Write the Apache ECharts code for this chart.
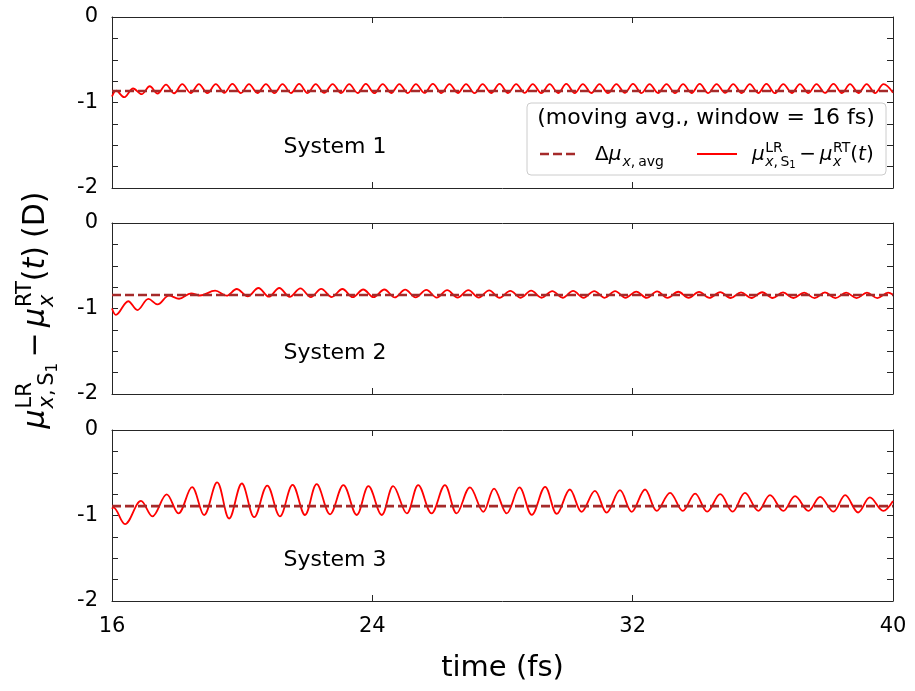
<!DOCTYPE html>
<html>
<head>
<meta charset="utf-8">
<script src="https://cdn.jsdelivr.net/npm/echarts@6/dist/echarts.min.js"></script>
<style>
  html, body { margin: 0; padding: 0; background: #ffffff; }
  #chart { width: 915px; height: 691px; }
</style>
</head>
<body>
<div id="chart"></div>
<script>
// ---- data -------------------------------------------------------------
const timeTicks = [16, 24, 32, 40];
const dipoleTicks = [0, -1, -2];
const panelNames = ['System 1', 'System 2', 'System 3'];
const avgValue = [-0.865, -0.842, -0.89];

// System 1: turning points of the dipole difference (fs, D)
const sys1Time = [16.00, 16.13, 16.37, 16.65, 16.91, 17.16, 17.40, 17.66, 17.91,
  18.16, 18.42, 18.67, 18.93, 19.19, 19.45, 19.70, 19.96, 20.21, 20.47,
  20.73, 20.99, 21.24, 21.50, 21.75, 22.01, 22.26, 22.52, 22.78, 23.04,
  23.29, 23.55, 23.80, 24.06, 24.32, 24.58, 24.83, 25.09, 25.34, 25.60,
  25.86, 26.12, 26.37, 26.63, 26.88, 27.14, 27.39, 27.65, 27.91, 28.17,
  28.42, 28.68, 28.93, 29.19, 29.45, 29.71, 29.96, 30.22, 30.47, 30.73,
  30.98, 31.24, 31.50, 31.76, 32.01, 32.27, 32.52, 32.78, 33.04, 33.30,
  33.55, 33.81, 34.06, 34.32, 34.58, 34.84, 35.09, 35.35, 35.60, 35.86,
  36.11, 36.37, 36.63, 36.89, 37.14, 37.40, 37.65, 37.91, 38.17, 38.43,
  38.68, 38.94, 39.19, 39.45, 39.71, 40.00];
const sys1Value = [-0.930, -0.862, -0.938, -0.836, -0.903, -0.810, -0.895, -0.790, -0.892,
  -0.786, -0.889, -0.784, -0.890, -0.786, -0.888, -0.783, -0.890, -0.785, -0.889,
  -0.784, -0.891, -0.786, -0.889, -0.783, -0.890, -0.785, -0.888, -0.784, -0.890,
  -0.786, -0.889, -0.783, -0.891, -0.785, -0.889, -0.784, -0.890, -0.786, -0.888,
  -0.783, -0.890, -0.785, -0.889, -0.784, -0.891, -0.786, -0.889, -0.783, -0.890,
  -0.785, -0.888, -0.784, -0.890, -0.786, -0.889, -0.783, -0.891, -0.785, -0.889,
  -0.784, -0.890, -0.786, -0.888, -0.783, -0.890, -0.785, -0.889, -0.784, -0.891,
  -0.786, -0.889, -0.783, -0.890, -0.785, -0.888, -0.784, -0.890, -0.786, -0.889,
  -0.783, -0.891, -0.785, -0.889, -0.784, -0.890, -0.786, -0.888, -0.783, -0.890,
  -0.785, -0.889, -0.784, -0.890, -0.786, -0.885];

// System 2
const sys2Time = [16.00, 16.12, 16.50, 16.78, 17.12, 17.40, 17.75, 18.06, 18.43, 18.70,
  19.17, 19.52, 19.83, 20.17, 20.50, 20.82, 21.14, 21.46, 21.79, 22.11,
  22.43, 22.75, 23.08, 23.40, 23.72, 24.04, 24.37, 24.69, 25.01, 25.33,
  25.66, 25.98, 26.30, 26.62, 26.95, 27.27, 27.59, 27.91, 28.24, 28.56,
  28.88, 29.20, 29.53, 29.85, 30.17, 30.49, 30.82, 31.14, 31.46, 31.78,
  32.11, 32.43, 32.75, 33.07, 33.40, 33.72, 34.04, 34.36, 34.69, 35.01,
  35.33, 35.65, 35.98, 36.30, 36.62, 36.94, 37.27, 37.59, 37.91, 38.23,
  38.56, 38.88, 39.20, 39.52, 39.85, 40.00];
const sys2Value = [-1.000, -1.075, -0.915, -1.018, -0.888, -0.952, -0.850, -0.886, -0.822, -0.848,
  -0.792, -0.850, -0.772, -0.857, -0.760, -0.862, -0.760, -0.864, -0.765, -0.866,
  -0.770, -0.866, -0.772, -0.868, -0.778, -0.868, -0.778, -0.870, -0.780, -0.870,
  -0.782, -0.872, -0.784, -0.872, -0.786, -0.872, -0.788, -0.874, -0.795, -0.874,
  -0.792, -0.874, -0.796, -0.874, -0.795, -0.875, -0.796, -0.875, -0.797, -0.875,
  -0.802, -0.876, -0.800, -0.876, -0.804, -0.876, -0.806, -0.876, -0.808, -0.877,
  -0.812, -0.877, -0.810, -0.877, -0.812, -0.877, -0.814, -0.878, -0.812, -0.878,
  -0.815, -0.878, -0.814, -0.878, -0.815, -0.840];

// System 3
const sys3Time = [16.00, 16.04, 16.40, 16.89, 17.24, 17.68, 18.04, 18.46, 18.83, 19.23,
  19.60, 19.99, 20.37, 20.77, 21.16, 21.55, 21.93, 22.29, 22.70, 23.11,
  23.52, 23.88, 24.29, 24.64, 25.06, 25.41, 25.82, 26.23, 26.59, 27.00,
  27.41, 27.74, 28.13, 28.52, 28.90, 29.31, 29.67, 30.07, 30.43, 30.84,
  31.20, 31.61, 31.97, 32.38, 32.74, 33.15, 33.54, 33.92, 34.29, 34.69,
  35.07, 35.45, 35.86, 36.22, 36.63, 36.99, 37.40, 37.76, 38.17, 38.53,
  38.93, 39.29, 39.70, 40.00];
const sys3Value = [-0.920, -0.905, -1.100, -0.830, -1.010, -0.752, -0.975, -0.668, -0.995, -0.612,
  -1.035, -0.626, -1.020, -0.650, -1.010, -0.642, -0.994, -0.634, -0.986, -0.645,
  -0.994, -0.657, -0.994, -0.657, -0.975, -0.645, -0.975, -0.645, -0.975, -0.672,
  -0.957, -0.685, -0.975, -0.672, -0.992, -0.665, -0.982, -0.696, -0.957, -0.712,
  -0.967, -0.704, -0.957, -0.696, -0.946, -0.735, -0.946, -0.743, -0.955, -0.751,
  -0.955, -0.735, -0.946, -0.762, -0.946, -0.774, -0.946, -0.782, -0.955, -0.762,
  -0.965, -0.789, -0.946, -0.830];

const seriesTime = [sys1Time, sys2Time, sys3Time];
const seriesValue = [sys1Value, sys2Value, sys3Value];

// ---- layout & style ------------------------------------------------------
const FONT = '"DejaVu Sans"';
const FRAME = '#262626';
const RED = '#ff0000';
const BROWN = '#a52a2a';
const panelTop = [17, 223, 430];
const panelH = 171;
const plotLeft = 112, plotW = 781;

const chart = echarts.init(document.getElementById('chart'), null, { renderer: 'canvas' });

const grids = [], xAxes = [], yAxes = [], series = [];
panelTop.forEach((top) => {
  grids.push({ left: plotLeft, width: plotW, top: top, height: panelH });
});
const tickStyle = { inside: true, length: 6, lineStyle: { color: FRAME, width: 1 } };
const lineStyleAxis = { show: true, onZero: false, lineStyle: { color: FRAME, width: 1 } };

// bottom / left axes carry the labels, top / right axes mirror the ticks
for (let i = 0; i < 3; i++) {
  xAxes.push({
    type: 'value', gridIndex: i, position: 'bottom',
    min: timeTicks[0], max: timeTicks[timeTicks.length - 1], interval: timeTicks[1] - timeTicks[0],
    axisLine: lineStyleAxis, axisTick: tickStyle, splitLine: { show: false },
    axisLabel: { show: i === 2, fontSize: 21, color: '#000', margin: 15, fontFamily: FONT },
    name: i === 2 ? 'time (fs)' : '', nameLocation: 'middle', nameGap: 53,
    nameTextStyle: { fontSize: 29, color: '#000', fontFamily: FONT }
  });
  yAxes.push({
    type: 'value', gridIndex: i, position: 'left',
    min: dipoleTicks[2], max: dipoleTicks[0], interval: 0.25,
    axisLine: lineStyleAxis, axisTick: tickStyle, splitLine: { show: false },
    axisLabel: {
      fontSize: 21, color: '#000', margin: 14, fontFamily: FONT,
      formatter: v => (dipoleTicks.indexOf(v) >= 0 ? String(v) : '')
    }
  });
}
for (let i = 0; i < 3; i++) {
  xAxes.push({
    type: 'value', gridIndex: i, position: 'top',
    min: timeTicks[0], max: timeTicks[timeTicks.length - 1], interval: timeTicks[1] - timeTicks[0],
    axisLine: lineStyleAxis, axisTick: tickStyle, axisLabel: { show: false }, splitLine: { show: false }
  });
  yAxes.push({
    type: 'value', gridIndex: i, position: 'right',
    min: dipoleTicks[2], max: dipoleTicks[0], interval: 0.25,
    axisLine: lineStyleAxis, axisTick: tickStyle, axisLabel: { show: false }, splitLine: { show: false }
  });
}

for (let i = 0; i < 3; i++) {
  series.push({
    name: panelNames[i], type: 'line', xAxisIndex: i, yAxisIndex: i,
    data: seriesTime[i].map((t, k) => [t, seriesValue[i][k]]),
    smooth: 0.36, showSymbol: false, symbol: 'none',
    lineStyle: { color: RED, width: 1.8 }, z: 2, silent: true
  });
  series.push({
    name: panelNames[i] + ' avg', type: 'line', xAxisIndex: i, yAxisIndex: i,
    data: [[timeTicks[0], avgValue[i]], [timeTicks[timeTicks.length - 1], avgValue[i]]],
    showSymbol: false, symbol: 'none',
    lineStyle: { color: BROWN, width: 2.6, type: [9, 4] }, z: 3, silent: true
  });
}

// ---- math-style text helper ---------------------------------------------
const measureCtx = document.createElement('canvas').getContext('2d');
function fontStr(size, italic) { return (italic ? 'italic ' : '') + size + 'px ' + FONT; }
function textW(s, size, italic) { measureCtx.font = fontStr(size, italic); return measureCtx.measureText(s).width; }

// items: {s, size, it, dy, gap} laid out left to right; {up:[...], down:[...]} stacked
function layoutMath(items, x, baseline, color, out) {
  for (const item of items) {
    if (item.up) {
      const e1 = layoutMath(item.up, x, baseline, color, out);
      const e2 = layoutMath(item.down, x, baseline, color, out);
      x = Math.max(e1, e2);
    } else {
      x += item.pre || 0;
      const w = textW(item.s, item.size, item.it);
      out.push({
        type: 'text', x: x, y: baseline + (item.dy || 0) - 0.35 * item.size, silent: true,
        style: {
          text: item.s, font: fontStr(item.size, item.it), fill: color,
          textAlign: 'left', textVerticalAlign: 'middle', align: 'left', verticalAlign: 'middle'
        }
      });
      x += w + (item.gap || 0);
    }
  }
  return x;
}

function diffExpr(b) {
  const s = Math.round(b * 0.7), ss = Math.round(b * 0.5);
  const up = -Math.round(b * 0.45), dn = Math.round(b * 0.25);
  return [
    { s: 'μ', it: true, size: b, gap: b * 0.03 },
    { up: [{ s: 'LR', size: s, dy: up }],
      down: [{ s: 'x', it: true, size: s, dy: dn }, { s: ',', size: s, dy: dn, gap: b * 0.12 },
             { s: 'S', size: s, dy: dn }, { s: '1', size: ss, dy: dn + b * 0.12 }] },
    { s: '−', size: b, pre: b * 0.18, gap: b * 0.18 },
    { s: 'μ', it: true, size: b, gap: b * 0.03 },
    { up: [{ s: 'RT', size: s, dy: up }], down: [{ s: 'x', it: true, size: s, dy: dn }] },
    { s: '(', size: b }, { s: 't', it: true, size: b }, { s: ')', size: b }
  ];
}

const graphics = [];

// rotated y-axis title
(function () {
  const items = diffExpr(30).concat([{ s: '(D)', size: 30, pre: 8 }]);
  const tmp = [];
  const w = layoutMath(items, 0, 0, '#000', tmp);
  const kids = [];
  layoutMath(items, -w / 2, 0, '#000', kids);
  graphics.push({ type: 'group', x: 47, y: 310, rotation: Math.PI / 2, children: kids });
})();

// panel captions
panelNames.forEach((name, i) => {
  graphics.push({
    type: 'text', x: 335, y: panelTop[i] + 130, silent: true,
    style: { text: name, font: fontStr(22, false), fill: '#000', textAlign: 'center', textVerticalAlign: 'middle', align: 'center', verticalAlign: 'middle' }
  });
});

// legend box
(function () {
  const bx = 527, by = 103, bw = 359, bh = 72;
  const kids = [];
  kids.push({ type: 'rect', shape: { x: bx, y: by, width: bw, height: bh, r: 4 },
    style: { fill: 'rgba(255,255,255,0.8)', stroke: '#cccccc', lineWidth: 1 } });
  kids.push({ type: 'text', x: 706, y: 118,
    style: { text: '(moving avg., window = 16 fs)', font: fontStr(22, false), fill: '#000',
      textAlign: 'center', textVerticalAlign: 'middle', align: 'center', verticalAlign: 'middle' } });
  kids.push({ type: 'line', shape: { x1: 540, y1: 154, x2: 578, y2: 154 },
    style: { stroke: BROWN, lineWidth: 2.6, lineDash: [9, 4] } });
  kids.push({ type: 'line', shape: { x1: 697, y1: 154, x2: 737, y2: 154 },
    style: { stroke: RED, lineWidth: 1.8 } });
  const b = 20, s = Math.round(b * 0.7);
  layoutMath([
    { s: 'Δ', size: b }, { s: 'μ', it: true, size: b, gap: 1 },
    { s: 'x', it: true, size: s, dy: 5 }, { s: ',', size: s, dy: 5, gap: 3 }, { s: 'avg', size: s, dy: 5 }
  ], 595, 162, '#000', kids);
  layoutMath(diffExpr(b), 752, 162, '#000', kids);
  graphics.push({ type: 'group', silent: true, z: 50, children: kids });
})();

chart.setOption({
  animation: false,
  backgroundColor: '#ffffff',
  textStyle: { fontFamily: FONT },
  grid: grids,
  xAxis: xAxes,
  yAxis: yAxes,
  series: series,
  graphic: graphics
});
</script>
</body>
</html>
